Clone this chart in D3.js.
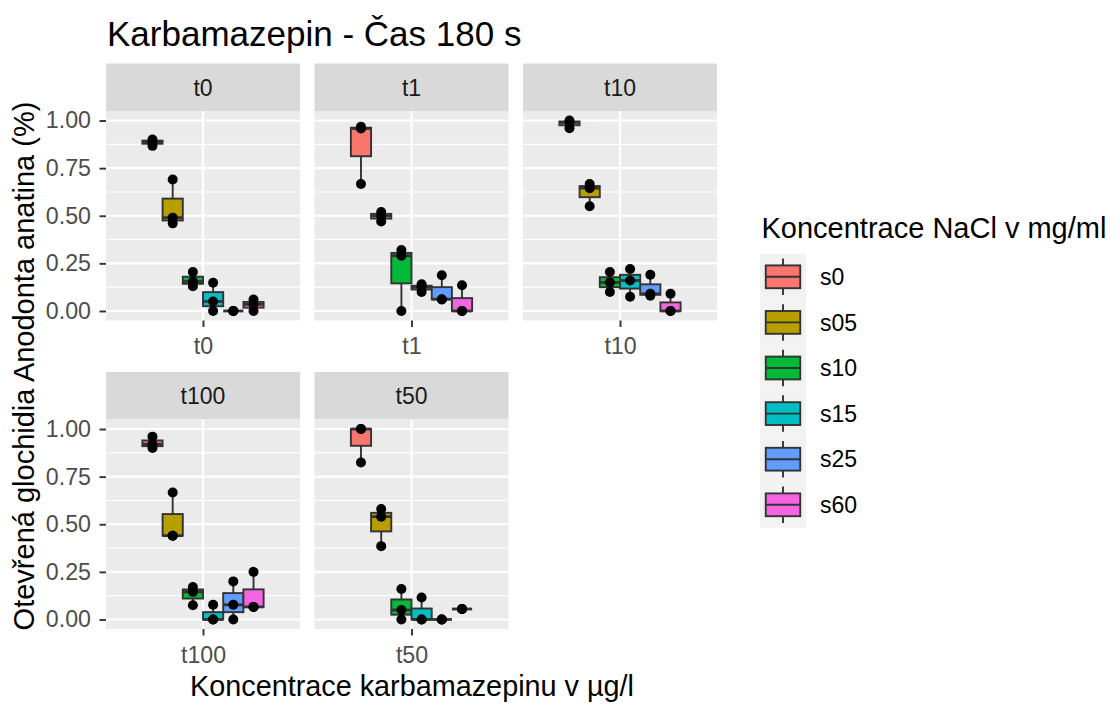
<!DOCTYPE html>
<html>
<head>
<meta charset="utf-8">
<script src="https://cdn.jsdelivr.net/npm/d3@7"></script>
<style>
body{margin:0;background:#fff}
text{font-family:"Liberation Sans",Arial,sans-serif}
</style>
</head>
<body>
<div id="chart"></div>
<script>
// DATA
// facety (koncentrace karbamazepinu) a skupiny (koncentrace NaCl)
var facets = ["t0","t1","t10","t100","t50"];
var groups = ["s0","s05","s10","s15","s25","s60"];

// tri opakovani pro kazdy facet, poradi jako ve "facets"
var s0  = [[0.867,0.889,0.90],[0.667,0.958,0.967],[0.96,0.99,1.0],[0.90,0.92,0.96],[0.824,1.0,1.0]];
var s05 = [[0.46,0.49,0.69],[0.47,0.50,0.52],[0.55,0.645,0.667],[0.44,0.44,0.667],[0.385,0.54,0.58]];
var s10 = [[0.13,0.155,0.205],[0.0,0.29,0.32],[0.10,0.15,0.205],[0.075,0.145,0.17],[0.0,0.05,0.16]];
var s15 = [[0.0,0.05,0.148],[0.10,0.125,0.14],[0.075,0.16,0.22],[0.0,0.0,0.077],[0.0,0.0,0.115]];
var s25 = [[0.0,0.0,0.0],[0.06,0.062,0.188],[0.08,0.09,0.19],[0.0,0.077,0.20],[0.0,0.0,0.0]];
var s60 = [[0.0,0.035,0.06],[0.0,0.0,0.135],[0.0,0.0,0.09],[0.066,0.066,0.25],[0.055,0.055,0.055]];
var series = [s0,s05,s10,s15,s25,s60];

var yTicks = [0,0.25,0.5,0.75,1];
var yMinor = [0.125,0.375,0.625,0.875];

var colors = ["#F8766D","#B79F00","#00BA38","#00BFC4","#619CFF","#F564E3"];

// LAYOUT
var width = 1115, height = 704;
var colLeft = [106,314.5,523], pw = 194;
var stripTop = [63.5,372], stripH = 47.5, ph = 209.5;
var lw = 1.9;

var svg = d3.select("#chart").append("svg")
  .attr("width",width).attr("height",height);

// titulek
svg.append("text")
  .attr("x",107).attr("y",45.5)
  .style("font-size","35px").style("fill","#000")
  .text("Karbamazepin - Čas 180 s");

facets.forEach(function(f,fi){
  var col = fi % 3, row = Math.floor(fi/3);
  var left = colLeft[col];
  var top = stripTop[row] + stripH;
  var bottom = top + ph;

  var eY = d3.scaleLinear().domain([-0.05,1.05]).range([bottom,top]);
  var eX = d3.scalePoint().domain([f]).range([left,left+pw]).padding(0.5);
  var unit = pw/1.2, c = eX(f);
  var eG = d3.scaleBand().domain(groups).range([c-0.375*unit,c+0.375*unit]);
  var bw = eG.bandwidth();

  var g = svg.append("g");

  // strip
  g.append("rect").attr("x",left).attr("y",stripTop[row])
    .attr("width",pw).attr("height",stripH).attr("fill","#D9D9D9");
  g.append("text").attr("x",left+pw/2).attr("y",stripTop[row]+stripH/2)
    .attr("dy","0.36em").attr("text-anchor","middle")
    .style("font-size","23px").style("fill","#1A1A1A").text(f);

  // panel
  g.append("rect").attr("x",left).attr("y",top)
    .attr("width",pw).attr("height",ph).attr("fill","#EBEBEB");
  g.selectAll(".minor").data(yMinor).enter().append("line")
    .attr("x1",left).attr("x2",left+pw)
    .attr("y1",function(d){return eY(d);}).attr("y2",function(d){return eY(d);})
    .attr("stroke","#fff").attr("stroke-width",1.1);
  g.selectAll(".major").data(yTicks).enter().append("line")
    .attr("x1",left).attr("x2",left+pw)
    .attr("y1",function(d){return eY(d);}).attr("y2",function(d){return eY(d);})
    .attr("stroke","#fff").attr("stroke-width",2.2);
  g.append("line").attr("x1",c).attr("x2",c).attr("y1",top).attr("y2",bottom)
    .attr("stroke","#fff").attr("stroke-width",2.2);

  // boxploty
  groups.forEach(function(s,gi){
    var vals = series[gi][fi].slice().sort(d3.ascending);
    var q1 = d3.quantile(vals,0.25), med = d3.quantile(vals,0.5), q3 = d3.quantile(vals,0.75);
    var iqr = q3-q1;
    var lo = d3.min(vals.filter(function(v){return v >= q1-1.5*iqr;}));
    var hi = d3.max(vals.filter(function(v){return v <= q3+1.5*iqr;}));
    var cx = eG(s) + bw/2;
    g.append("line").attr("x1",cx).attr("x2",cx).attr("y1",eY(hi)).attr("y2",eY(q3))
      .attr("stroke","#333").attr("stroke-width",lw);
    g.append("line").attr("x1",cx).attr("x2",cx).attr("y1",eY(q1)).attr("y2",eY(lo))
      .attr("stroke","#333").attr("stroke-width",lw);
    g.append("rect").attr("x",cx-bw/2).attr("y",eY(q3))
      .attr("width",bw).attr("height",eY(q1)-eY(q3))
      .attr("fill",colors[gi]).attr("stroke","#333").attr("stroke-width",lw);
    g.append("line").attr("x1",cx-bw/2).attr("x2",cx+bw/2)
      .attr("y1",eY(med)).attr("y2",eY(med))
      .attr("stroke","#333").attr("stroke-width",2.8);
  });

  // body
  groups.forEach(function(s,gi){
    var cx = eG(s) + bw/2;
    g.selectAll(".pt"+gi).data(series[gi][fi]).enter().append("circle")
      .attr("cx",cx).attr("cy",function(d){return eY(d);})
      .attr("r",5).attr("fill","#000");
  });

  // osa x
  var ax = g.append("g").attr("transform","translate(0,"+bottom+")")
    .call(d3.axisBottom(eX).tickSize(6.5).tickPadding(11));
  ax.select(".domain").remove();
  ax.selectAll("line").attr("stroke","#333").attr("stroke-width",lw);
  ax.selectAll("text").style("font-size","23.2px").style("fill","#4D4D4D");

  // osa y jen vlevo
  if (col === 0) {
    var ay = g.append("g").attr("transform","translate("+left+",0)")
      .call(d3.axisLeft(eY).tickValues(yTicks).tickFormat(d3.format(".2f"))
        .tickSize(6.5).tickPadding(8.5));
    ay.select(".domain").remove();
    ay.selectAll("line").attr("stroke","#333").attr("stroke-width",lw);
    ay.selectAll("text").style("font-size","23.2px").style("fill","#4D4D4D");
  }
});

// popisky os
svg.append("text")
  .attr("x",412).attr("y",696)
  .attr("text-anchor","middle").style("font-size","28.8px").style("fill","#000")
  .text("Koncentrace karbamazepinu v µg/l");
svg.append("text")
  .attr("transform","translate(34,366) rotate(-90)")
  .attr("text-anchor","middle").style("font-size","29px").style("fill","#000")
  .text("Otevřená glochidia Anodonta anatina (%)");

// LEGENDA
var keyX = 760, keyY = 254, keyW = 46, keyH = 45.6;
svg.append("text").attr("x",761.5).attr("y",238.3)
  .style("font-size","29px").style("fill","#000")
  .text("Koncentrace NaCl v mg/ml");

var legend = svg.selectAll(".legend").data(groups).enter().append("g")
  .attr("class","legend")
  .attr("transform",function(d,i){return "translate("+keyX+","+(keyY+i*keyH)+")";});
legend.append("rect").attr("width",keyW).attr("height",keyH).attr("fill","#F2F2F2");
legend.append("line").attr("x1",keyW/2).attr("x2",keyW/2)
  .attr("y1",keyH*0.1).attr("y2",keyH*0.25).attr("stroke","#333").attr("stroke-width",lw);
legend.append("line").attr("x1",keyW/2).attr("x2",keyW/2)
  .attr("y1",keyH*0.75).attr("y2",keyH*0.9).attr("stroke","#333").attr("stroke-width",lw);
legend.append("rect").attr("x",keyW*0.125).attr("y",keyH*0.25)
  .attr("width",keyW*0.75).attr("height",keyH*0.5)
  .attr("fill",function(d,i){return colors[i];})
  .attr("stroke","#333").attr("stroke-width",lw);
legend.append("line").attr("x1",keyW*0.125).attr("x2",keyW*0.875)
  .attr("y1",keyH/2).attr("y2",keyH/2).attr("stroke","#333").attr("stroke-width",lw);
legend.append("text").attr("x",60).attr("y",keyH/2).attr("dy","0.36em")
  .style("font-size","23px").style("fill","#000")
  .text(function(d){return d;});
</script>
</body>
</html>
